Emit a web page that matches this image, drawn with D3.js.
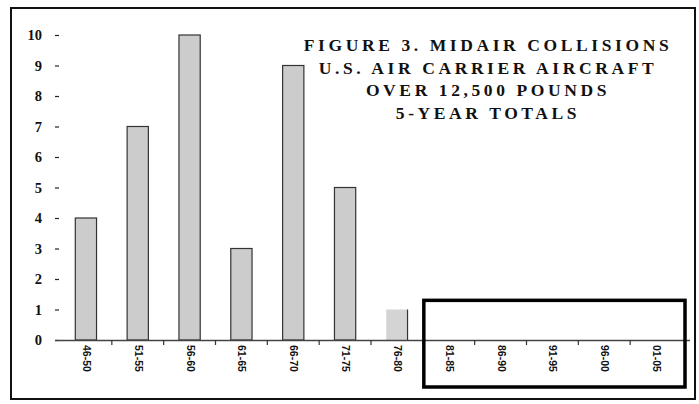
<!DOCTYPE html>
<html>
<head>
<meta charset="utf-8">
<script src="https://cdn.jsdelivr.net/npm/d3@7"></script>
<style>
  html, body { margin: 0; padding: 0; background: #fff; }
  svg { display: block; }
</style>
</head>
<body>
<svg id="chart" width="699" height="404"></svg>
<script>
const categories = ["46-50","51-55","56-60","61-65","66-70","71-75","76-80","81-85","86-90","91-95","96-00","01-05"];
const values = [4, 7, 10, 3, 9, 5, 1, null, null, null, null, null];
const yTicks = [0,1,2,3,4,5,6,7,8,9,10];
const titleLines = ["FIGURE 3. MIDAIR COLLISIONS", "U.S. AIR CARRIER AIRCRAFT", "OVER 12,500 POUNDS", "5-YEAR TOTALS"];
const highlightFrom = "81-85";

const svg = d3.select("#chart");

// outer frame
svg.append("rect").attr("x", 11).attr("y", 8).attr("width", 684).attr("height", 391)
  .attr("fill", "none").attr("stroke", "#111").attr("stroke-width", 2);

const x = d3.scaleBand().domain(categories).range([60, 682]).paddingInner(0.59).paddingOuter(0.295);
const y = d3.scaleLinear().domain([0, 10]).range([340, 35]);

// bars
const data = categories.map((c, i) => ({c, v: values[i], i}));
svg.append("g").selectAll("rect").data(data.filter(d => d.v != null)).join("rect")
  .attr("x", d => x(d.c))
  .attr("y", d => y(d.v))
  .attr("width", x.bandwidth())
  .attr("height", d => y(0) - y(d.v))
  .attr("fill", d => d.c === "76-80" ? "#d4d4d4" : "#cccccc")
  .attr("stroke", d => d.c === "76-80" ? "none" : "#333")
  .attr("stroke-width", 1.2);
// right edge of the faint last bar
const lb = data.find(d => d.c === "76-80");
svg.append("line").attr("x1", x(lb.c) + x.bandwidth()).attr("x2", x(lb.c) + x.bandwidth())
  .attr("y1", y(lb.v)).attr("y2", y(0)).attr("stroke", "#333").attr("stroke-width", 1.2);

// y axis (labels + dashes, no domain line)
const yAxis = d3.axisLeft(y).tickValues(yTicks).tickSize(4).tickPadding(13).tickFormat(d3.format("d"));
const gy = svg.append("g").attr("transform", "translate(59,0)").call(yAxis);
gy.select(".domain").remove();
gy.selectAll(".tick line").attr("stroke", "#222").attr("stroke-width", 1.2);
gy.selectAll(".tick text")
  .attr("font-family", "Liberation Serif, Times New Roman, serif")
  .attr("font-weight", "bold").attr("font-size", 14.5).attr("fill", "#111");

// x axis
const xAxis = d3.axisBottom(x).tickSize(0).tickPadding(0);
const gx = svg.append("g").attr("transform", "translate(0,340)").call(xAxis);
gx.select(".domain").attr("d", "M55,0.5H690").attr("stroke", "#444").attr("stroke-width", 1.3);
gx.selectAll(".tick text")
  .attr("font-family", "Liberation Sans, Arial, sans-serif")
  .attr("font-weight", "bold").attr("font-size", 10.5).attr("fill", "#111")
  .attr("text-anchor", "start").attr("y", null)
  .attr("transform", "translate(-3,5) rotate(90)")
  .attr("dy", "0");
// separator ticks between categories
const bounds = categories.slice(1).map(c => x(c) - x.step() * x.paddingInner() / 2);
svg.append("g").selectAll("line").data(bounds).join("line")
  .attr("x1", d => d).attr("x2", d => d).attr("y1", 340).attr("y2", 345)
  .attr("stroke", "#333").attr("stroke-width", 1.2);

// highlighted empty region box
const bx0 = x(highlightFrom) - x.step() * x.paddingInner() / 2 + 1;
svg.append("rect").attr("x", bx0).attr("y", y(1.3)).attr("width", 685 - bx0).attr("height", 387 - y(1.3))
  .attr("fill", "none").attr("stroke", "#000").attr("stroke-width", 3.5);

// title
const tg = svg.append("g");
titleLines.forEach((t, i) => {
  tg.append("text").attr("x", 488).attr("y", 51 + i * 22.7)
    .attr("text-anchor", "middle")
    .attr("font-family", "Liberation Serif, Times New Roman, serif")
    .attr("font-weight", "bold").attr("font-size", 17.5)
    .attr("letter-spacing", "3.6px")
    .attr("fill", "#111").text(t);
});
</script>
</body>
</html>
